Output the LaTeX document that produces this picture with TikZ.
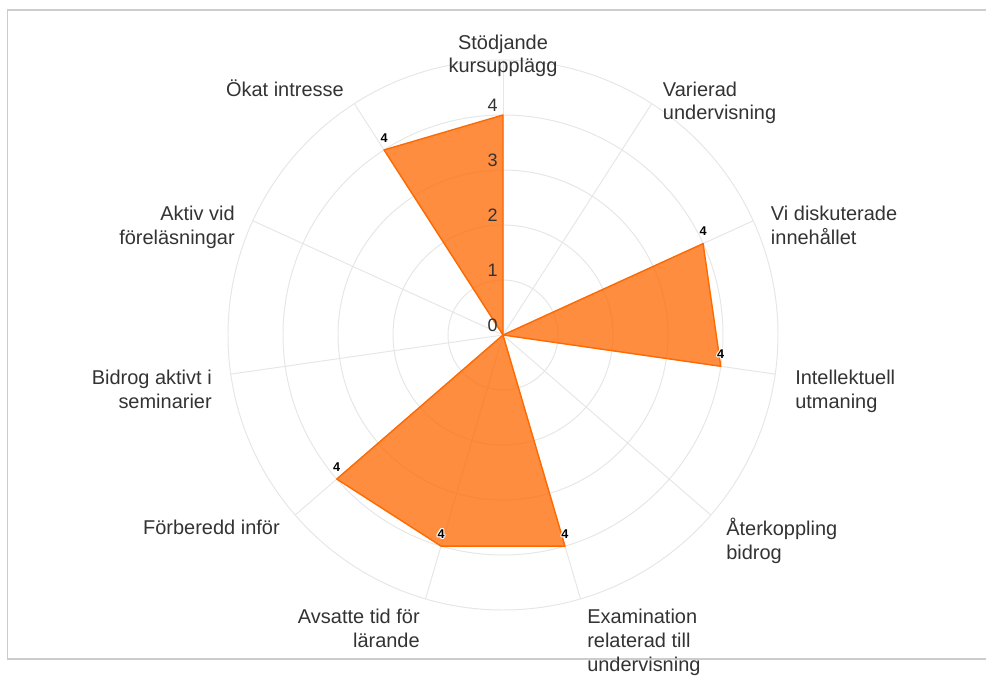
\documentclass[tikz,border=0pt]{standalone}
\usepackage{fontspec}
\setmainfont{Liberation Sans}
\usepackage[copies]{contour}
\contourlength{0.8pt}
\contournumber{8}

\definecolor{gridgray}{HTML}{E6E6E6}
\definecolor{framegray}{HTML}{CCCCCC}
\definecolor{labelgray}{HTML}{333333}
\definecolor{areaorange}{HTML}{FF7010}
\definecolor{lineorange}{HTML}{FF6A00}

\begin{document}
\begin{tikzpicture}[x=0.025cm,y=0.025cm,
    grid line/.style={draw=gridgray,line width=0.7pt},
    axis label/.style={font=\fontsize{14.2}{16.8}\selectfont,text=labelgray,inner sep=0pt},
    ring label/.style={font=\fontsize{12.8}{15}\selectfont,text=labelgray,inner sep=0pt,anchor=base east},
    value label/.style={font=\fontsize{9}{10}\selectfont\bfseries,inner sep=0pt,anchor=base},
    area/.style={fill=areaorange,fill opacity=0.8,draw=lineorange,line width=1pt,line join=round}]

  \useasboundingbox (-503,-341) rectangle (483,335);
  \draw[framegray,line width=1pt] (-495.5,-324) rectangle (500,325);

  % grid
  \foreach \r in {55,110,...,275}
    \draw[grid line] (0,0) circle (\r);
  \foreach \k in {0,...,10}
    \draw[grid line] (0,0) -- ({90-\k*360/11}:275);

  % data
  \foreach \name/\val [count=\k from 0] in {st/4,va/0,vi/4,in/4,at/0,ex/4,av/4,fo/4,bi/0,ak/0,ok/4}
    \coordinate (p-\name) at ({90-\k*360/11}:\val*55);
  \filldraw[area] (p-st) -- (p-va) -- (p-vi) -- (p-in) -- (p-at) -- (p-ex)
    -- (p-av) -- (p-fo) -- (p-bi) -- (p-ak) -- (p-ok) -- cycle;

  % radial axis
  \foreach \v in {0,...,4}
    \node[ring label] (r\v) at (-5,\v*55+3) {\v};

  % value labels
  \foreach \name in {vi,in,ex,av,fo,ok}
    \node[value label] (l-\name) at ([yshift=5.5pt]p-\name) {\contour{white}{4}};

  % category labels (anchored at the last line)
  \node[axis label,anchor=base,align=center] (st) at (0,262.3) {Stödjande\\kursupplägg};
  \node[axis label,anchor=base west,align=left] (va) at (159.7,215.3) {Varierad\\undervisning};
  \node[axis label,anchor=base west,align=left] (vi) at (267.7,90.5) {Vi diskuterade\\innehållet};
  \node[axis label,anchor=base west,align=left] (in) at (292,-73.5) {Intellektuell\\utmaning};
  \node[axis label,anchor=base west,align=left] (at) at (223,-224.3) {Återkoppling\\bidrog};
  \node[axis label,anchor=base west,align=left] (ex) at (84,-336) {Examination\\relaterad till\\undervisning};
  \node[axis label,anchor=base east,align=right] (av) at (-83,-312.5) {Avsatte tid för\\lärande};
  \node[axis label,anchor=base east,align=right] (fo) at (-223,-200) {Förberedd inför};
  \node[axis label,anchor=base east,align=right] (bi) at (-291,-73.5) {Bidrog aktivt i\\seminarier};
  \node[axis label,anchor=base east,align=right] (ak) at (-268,90.5) {Aktiv vid\\föreläsningar};
  \node[axis label,anchor=base east,align=right] (ok) at (-159,238.3) {Ökat intresse};
\end{tikzpicture}
\end{document}
